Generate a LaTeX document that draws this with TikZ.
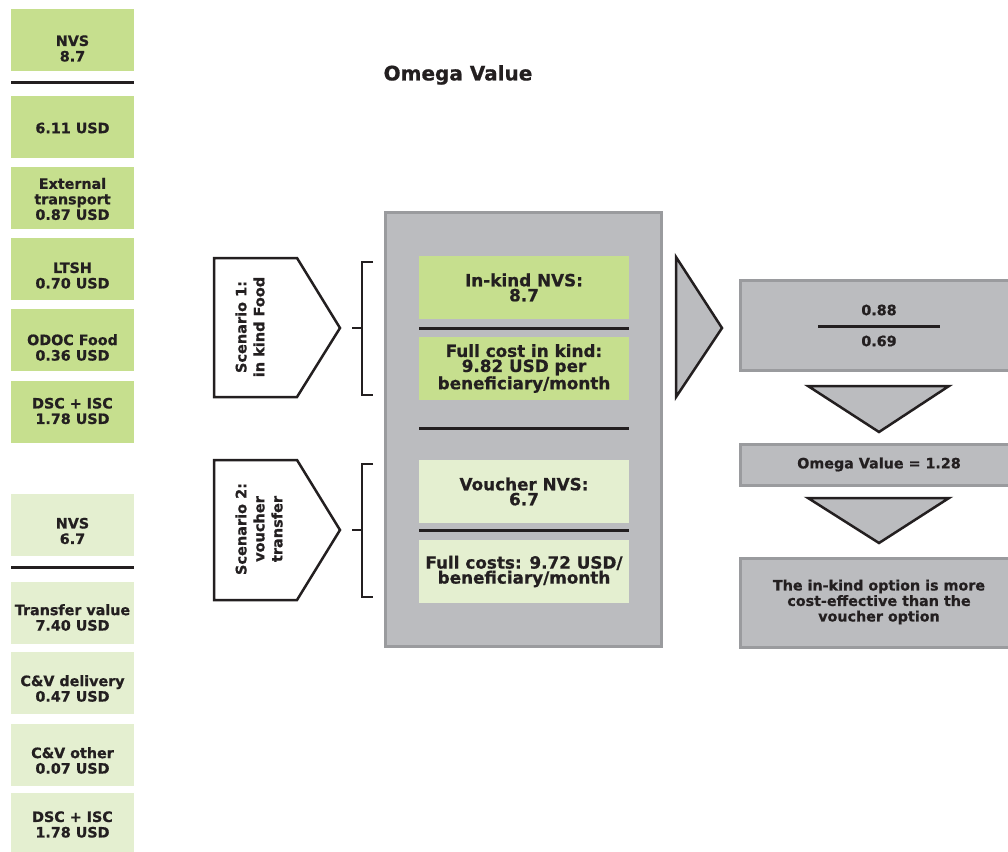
\documentclass[tikz,border=0pt]{standalone}
\usepackage{fontspec}
\setmainfont{DejaVu Sans}[BoldFeatures={FakeBold=0.8}]
\definecolor{kindgreen}{HTML}{C6DF8E}
\definecolor{vouchgreen}{HTML}{E4EFD0}
\definecolor{panelgray}{HTML}{BBBCBF}
\definecolor{edgegray}{HTML}{9A9B9E}
\definecolor{ink}{HTML}{231F20}
\tikzset{
  costbox/.style={minimum width=123pt,minimum height=62pt,inner sep=0pt},
  midbox/.style={minimum width=210pt,minimum height=63pt,inner sep=0pt,align=center,
    text=ink,font=\bfseries\fontsize{16.8}{15}\selectfont},
  rtext/.style={inner sep=0pt,align=center,text=ink,font=\bfseries\fontsize{14.3}{15.5}\selectfont},
  bar/.style={ink,line width=3pt},
  outline/.style={ink,line width=2.5pt,line join=miter},
  graypanel/.style={draw=edgegray,fill=panelgray,line width=3pt}
}
\begin{document}
\begin{tikzpicture}[x=1pt,y=-1pt]
  \useasboundingbox (0,0) rectangle (1008,851);
  % left column: in kind
  \foreach \n/\y/\ty/\t in {kA/40/48.5/{NVS\\8.7},kB/127/128/{6.11 USD},kC/198/199/{External\\transport\\0.87 USD},
      kD/269/275.5/{LTSH\\0.70 USD},kE/340/347.5/{ODOC Food\\0.36 USD},kF/412/411/{DSC + ISC\\1.78 USD}} {
    \node[costbox,fill=kindgreen] (\n) at (72.5,\y) {};
    \node[rtext] (\n-t) at (72.5,\ty) {\t};
  }
  \draw[bar] (11,82) -- (134,82);
  % left column: voucher
  \foreach \n/\y/\ty/\t in {vA/525/531/{NVS\\6.7},vB/612.5/617.5/{Transfer value\\7.40 USD},
      vC/682.5/688.5/{C\&V delivery\\0.47 USD},vD/754.5/760.5/{C\&V other\\0.07 USD},vE/824/824.5/{DSC + ISC\\1.78 USD}} {
    \node[costbox,fill=vouchgreen] (\n) at (72.5,\y) {};
    \node[rtext] (\n-t) at (72.5,\ty) {\t};
  }
  \draw[bar] (11,567) -- (134,567);

  \node[text=ink,font=\bfseries\fontsize{20}{22}\selectfont] (title) at (458,75) {Omega Value};

  % scenarios
  \draw[outline,fill=white] (214,258) -- (297,258) -- (340,328) -- (297,397) -- (214,397) -- cycle;
  \node[rtext,rotate=90,font=\bfseries\fontsize{14.5}{18}\selectfont] (scen1) at (250,327) {Scenario 1:\\in kind Food};
  \draw[outline] (373,262) -- (362,262) -- (362,395) -- (373,395) (352,328) -- (362,328);
  \draw[outline,fill=white] (214,460) -- (297,460) -- (340,530) -- (297,600) -- (214,600) -- cycle;
  \node[rtext,rotate=90,font=\bfseries\fontsize{14.5}{18}\selectfont] (scen2) at (259,529) {Scenario 2:\\voucher\\transfer};
  \draw[outline] (373,464) -- (362,464) -- (362,597) -- (373,597) (352,530) -- (362,530);

  % central panel
  \draw[graypanel] (385,212) rectangle (661,646);
  \node[midbox,fill=kindgreen] (kindnvs) at (524,287.5) {In-kind NVS:\\8.7};
  \node[midbox,fill=kindgreen] (kindcost) at (524,368.5) {Full cost in kind:\\9.82 USD per\\beneficiary/month};
  \node[midbox,fill=vouchgreen] (vouchnvs) at (524,491.5) {Voucher NVS:\\6.7};
  \node[midbox,fill=vouchgreen] (vouchcost) at (524,571.5) {Full costs: 9.72 USD/\\beneficiary/month};
  \draw[bar] (419,328) -- (629,328);
  \draw[bar] (419,428) -- (629,428);
  \draw[bar] (419,530) -- (629,530);

  % result
  \draw[outline,fill=panelgray] (676,257) -- (722,328) -- (676,397) -- cycle;
  \draw[graypanel] (740,280) rectangle (1014,370);
  \node[rtext] (num) at (879,310) {0.88};
  \node[rtext] (den) at (879,341) {0.69};
  \draw[bar] (818,326) -- (940,326);
  \draw[outline,fill=panelgray] (808,386) -- (949,386) -- (879,432) -- cycle;
  \draw[graypanel] (740,444) rectangle (1014,485);
  \node[rtext] (omega) at (879,464.5) {Omega Value = 1.28};
  \draw[outline,fill=panelgray] (808,498) -- (949,498) -- (879,543) -- cycle;
  \draw[graypanel] (740,558) rectangle (1014,647);
  \node[rtext] (verdict) at (879,602) {The in-kind option is more\\cost-effective than the\\voucher option};
\end{tikzpicture}
\end{document}
